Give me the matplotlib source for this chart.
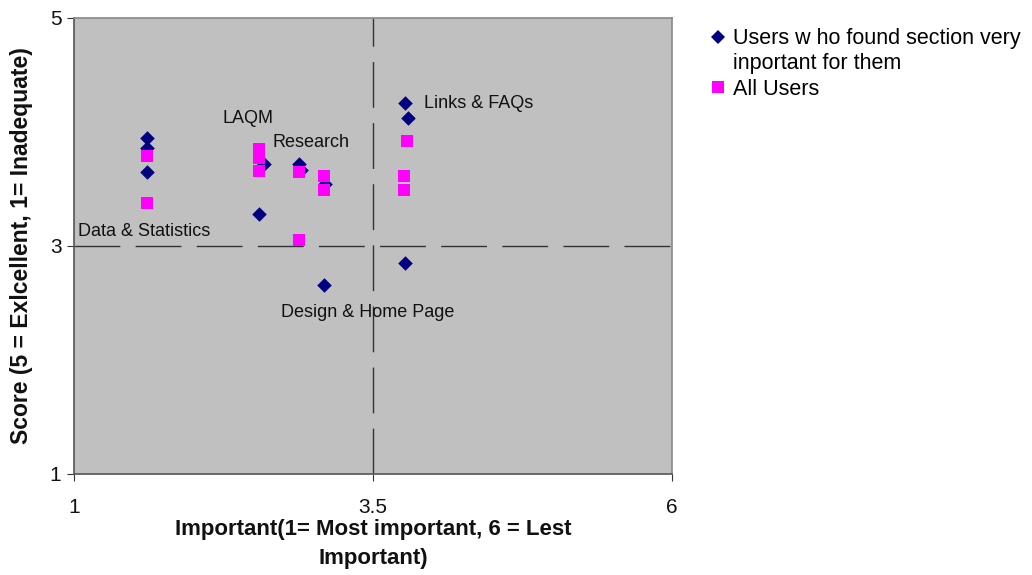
import matplotlib
matplotlib.use("Agg")
import matplotlib.pyplot as plt
from matplotlib.lines import Line2D

plt.rcParams['font.family'] = ['Liberation Sans', 'DejaVu Sans']

# Importance ranking (x) and score (y) per website section
very_important_x = [1.61, 1.61, 1.61, 2.55, 2.59, 2.88, 2.90, 3.10, 3.09, 3.77, 3.79, 3.77]
very_important_y = [3.95, 3.86, 3.65, 3.28, 3.72, 3.72, 3.67, 3.54, 2.66, 4.25, 4.12, 2.85]

all_users_x = [1.61, 1.61, 2.55, 2.55, 2.55, 2.88, 2.88, 3.09, 3.09, 3.78, 3.76, 3.76]
all_users_y = [3.79, 3.38, 3.85, 3.77, 3.66, 3.65, 3.05, 3.61, 3.49, 3.92, 3.61, 3.49]

section_labels = ["Links & FAQs", "LAQM", "Research", "Data & Statistics", "Design & Home Page"]
label_x = [3.93, 2.24, 2.66, 1.03, 2.73]
label_y = [4.25, 4.12, 3.91, 3.13, 2.42]

series_names = ["Users w ho found section very", "inportant for them", "All Users"]

x_ticks = [1, 3.5, 6]
y_ticks = [1, 3, 5]

fig = plt.figure(figsize=(10.32, 5.75), dpi=100)
ax = fig.add_axes([0.0717, 0.1757, 0.5795, 0.7930])
ax.set_facecolor('#C0C0C0')
ax.set_xlim(1, 6)
ax.set_ylim(1, 5)

# Quadrant divider lines
dash = (33, 11)
ax.axvline(3.5, color='#333333', lw=1.0, dashes=dash, zorder=1)
ax.axhline(3, color='#333333', lw=1.0, dashes=dash, zorder=1)

ax.scatter(very_important_x, very_important_y, marker='D', s=55, color='#000080',
           linewidths=0, zorder=3)
ax.scatter(all_users_x, all_users_y, marker='s', s=80, color='#FF00FF',
           linewidths=0, zorder=4)

for txt, lx, ly in zip(section_labels, label_x, label_y):
    ax.text(lx, ly, txt, fontsize=13, color='#111111', ha='left', va='center', zorder=5)

ax.set_xticks(x_ticks)
ax.set_xticklabels(['1', '3.5', '6'])
ax.set_yticks(y_ticks)
ax.tick_params(axis='both', direction='out', length=5, width=0.8, labelsize=15,
               color='#333333', labelcolor='#111111')
ax.tick_params(axis='x', pad=12)
ax.tick_params(axis='y', pad=4)

for side in ['left', 'bottom']:
    ax.spines[side].set_color('#555555')
    ax.spines[side].set_linewidth(1.2)
for side in ['top', 'right']:
    ax.spines[side].set_color('#888888')
    ax.spines[side].set_linewidth(1.2)

ax.set_xlabel('Important(1= Most important, 6 = Lest\nImportant)', fontsize=16,
              fontweight='bold', labelpad=2, linespacing=1.45, color='#111111')
ax.set_ylabel('Score (5 = Exlcellent, 1= Inadequate)', fontsize=16.5,
              fontweight='bold', labelpad=12, color='#111111')

# Legend: the first series name wraps over two rows, marker beside the first row
handles = [
    Line2D([], [], ls='none', marker='D', markersize=7, color='#000080', mew=0),
    Line2D([], [], ls='none', marker=None),
    Line2D([], [], ls='none', marker='s', markersize=8.5, color='#FF00FF', mew=0),
]
fig.legend(handles, series_names, loc='upper left', bbox_to_anchor=(0.677, 0.966),
           frameon=False, fontsize=15.5, handletextpad=0.2, borderaxespad=0,
           labelspacing=0.2, handlelength=1.0)

fig.savefig('out.png', dpi=100)
